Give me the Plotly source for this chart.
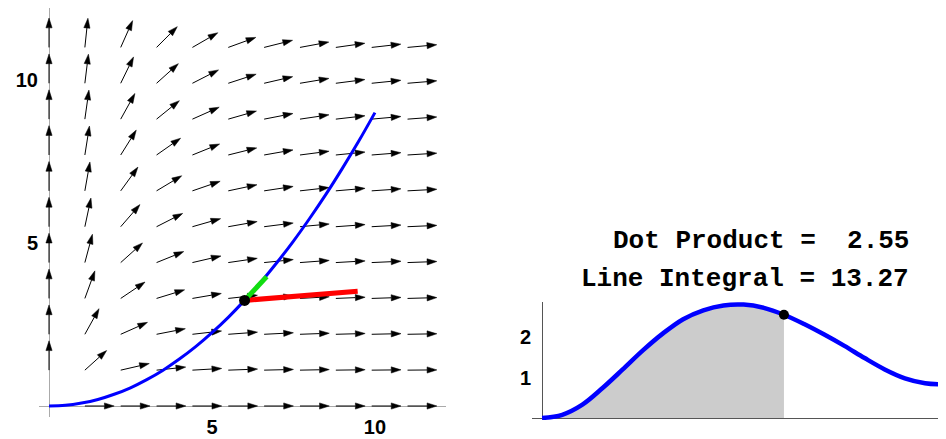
import math
import plotly.graph_objects as go

# ---------------- data ----------------
grid_x = [0.0, 1.1, 2.2, 3.3, 4.4, 5.5, 6.6, 7.7, 8.8, 9.9, 11.0]
grid_y = [0.0, 1.1, 2.2, 3.3, 4.4, 5.5, 6.6, 7.7, 8.8, 9.9, 11.0]
# arrow direction (degrees) for each grid row (y) / column (x); None = no arrow
arrow_angle_deg = [
    [None, 0, 0, 0, 0, 0, 0, 0, 0, 0, 0],
    [90, 42, 13, 6, 3.3, 2.1, 1.4, 1.1, 0.8, 0.6, 0.5],
    [90, 61, 24, 11, 6.5, 4.2, 2.9, 2.1, 1.6, 1.3, 1.0],
    [90, 70, 34, 17, 9.7, 6.2, 4.3, 3.2, 2.4, 1.9, 1.6],
    [90, 75, 42, 22, 13, 8.3, 5.8, 4.2, 3.3, 2.6, 2.1],
    [90, 78, 49, 27, 16, 10, 7.2, 5.3, 4.1, 3.2, 2.6],
    [90, 80, 54, 31, 19, 12, 8.6, 6.4, 4.9, 3.9, 3.1],
    [90, 81, 58, 35, 22, 14, 10, 7.4, 5.7, 4.5, 3.6],
    [90, 82, 61, 39, 24, 16, 11, 8.4, 6.5, 5.1, 4.2],
    [90, 83, 64, 42, 27, 18, 13, 9.5, 7.3, 5.8, 4.7],
    [90, 84, 66, 45, 30, 20, 14, 10.5, 8.1, 6.4, 5.2],
]

curve_x = [0, 0.5, 1, 1.5, 2, 2.5, 3, 3.5, 4, 4.5, 5, 5.5, 6, 6.5, 7, 7.5, 8, 8.5, 9, 9.5, 10]
curve_y = [0, 0.02, 0.09, 0.2, 0.36, 0.56, 0.81, 1.1, 1.44, 1.82, 2.25, 2.72, 3.24,
           3.8, 4.41, 5.06, 5.76, 6.5, 7.29, 8.12, 9.0]

point_xy = [6.0, 3.24]
tangent_vec = [0.68, 0.73]
field_vec = [3.47, 0.28]

t_vals = [0, 0.5, 1, 1.5, 2, 2.5, 3, 3.5, 4, 4.5, 5, 5.5, 6, 6.5, 7, 7.5, 8, 8.5, 9, 9.5, 10]
dot_vals = [0, 0.08, 0.33, 0.74, 1.2, 1.67, 2.09, 2.44, 2.66, 2.78, 2.8, 2.72, 2.55,
            2.32, 2.06, 1.78, 1.48, 1.2, 0.98, 0.86, 0.83]
t_current = 6.0
dot_current = 2.55
line_integral = 13.27

left_ticks = [5, 10]
right_yticks = [1, 2]

# ---------------- styling ----------------
ARROW_LEN = 0.9
HEAD_LEN = 0.3
HEAD_HALF = 0.095
PAGE_OFF = 8            # default body margin of the html page
W, H = 946 - PAGE_OFF, 439 - PAGE_OFF


def dx(px):
    return (px - PAGE_OFF) / W


def dy(py):
    return 1 - (py - PAGE_OFF) / H


fig = go.Figure()

# vector field arrows
lx, ly, tx, ty = [], [], [], []
for j, yv in enumerate(grid_y):
    for i, xv in enumerate(grid_x):
        a = arrow_angle_deg[j][i]
        if a is None:
            continue
        ux, uy = math.cos(math.radians(a)), math.sin(math.radians(a))
        hx, hy = xv + ARROW_LEN * ux, yv + ARROW_LEN * uy
        bx, by = hx - HEAD_LEN * ux, hy - HEAD_LEN * uy
        lx += [xv, bx, None]
        ly += [yv, by, None]
        px, py = -uy, ux
        tx += [hx, bx + HEAD_HALF * px, bx - HEAD_HALF * px, hx, None]
        ty += [hy, by + HEAD_HALF * py, by - HEAD_HALF * py, hy, None]

fig.add_trace(go.Scatter(x=lx, y=ly, mode="lines", line=dict(color="black", width=1),
                         hoverinfo="skip", xaxis="x", yaxis="y"))
fig.add_trace(go.Scatter(x=tx, y=ty, mode="lines", fill="toself", fillcolor="black",
                         line=dict(color="black", width=0.5), hoverinfo="skip",
                         xaxis="x", yaxis="y"))

# curve
fig.add_trace(go.Scatter(x=curve_x, y=curve_y, mode="lines",
                         line=dict(color="#0000ff", width=3, shape="spline"),
                         xaxis="x", yaxis="y"))
# field vector (red) and unit tangent (green)
fig.add_trace(go.Scatter(x=[point_xy[0], point_xy[0] + field_vec[0]],
                         y=[point_xy[1], point_xy[1] + field_vec[1]], mode="lines",
                         line=dict(color="#ff0000", width=5), xaxis="x", yaxis="y"))
fig.add_trace(go.Scatter(x=[point_xy[0], point_xy[0] + tangent_vec[0]],
                         y=[point_xy[1], point_xy[1] + tangent_vec[1]], mode="lines",
                         line=dict(color="#11dd11", width=5), xaxis="x", yaxis="y"))
fig.add_trace(go.Scatter(x=[point_xy[0]], y=[point_xy[1]], mode="markers",
                         marker=dict(color="black", size=11), xaxis="x", yaxis="y"))

# right panel: shaded area, curve, dot
t_fill = [t for t in t_vals if t <= t_current]
d_fill = [d for t, d in zip(t_vals, dot_vals) if t <= t_current]
fig.add_trace(go.Scatter(x=t_fill, y=d_fill, mode="lines", fill="tozeroy",
                         fillcolor="#cccccc", line=dict(color="rgba(0,0,0,0)", width=0, shape="spline"),
                         xaxis="x2", yaxis="y2"))
fig.add_trace(go.Scatter(x=t_vals, y=dot_vals, mode="lines",
                         line=dict(color="#0000ff", width=4.5, shape="spline"),
                         xaxis="x2", yaxis="y2"))
fig.add_trace(go.Scatter(x=[t_current], y=[dot_current], mode="markers",
                         marker=dict(color="black", size=10), xaxis="x2", yaxis="y2"))

tickfont = dict(family="Liberation Sans, Arial, sans-serif", size=20, color="black", weight="bold")
axis_common = dict(showgrid=False, showline=False, ticks="", zeroline=True,
                   tickfont=tickfont, automargin=False, fixedrange=True)

fig.update_layout(
    width=W, height=H,
    margin=dict(l=0, r=0, t=0, b=0),
    paper_bgcolor="white", plot_bgcolor="white",
    showlegend=False,
    xaxis=dict(domain=[dx(39), dx(446)], range=[-0.307, 12.18], tickvals=left_ticks,
               ticklabelstandoff=-4,
               zerolinecolor="#aaaaaa", zerolinewidth=1, anchor="y", **axis_common),
    yaxis=dict(domain=[dy(417), dy(8)], range=[-0.337, 12.209], tickvals=left_ticks,
               zerolinecolor="#aaaaaa", zerolinewidth=1, anchor="x", **axis_common),
    xaxis2=dict(domain=[dx(532), 1.0], range=[-0.25, 10.02], tickvals=[],
                zerolinecolor="#555555", zerolinewidth=1, anchor="y2", **axis_common),
    yaxis2=dict(domain=[dy(420), dy(302)], range=[-0.049, 2.864], tickvals=right_yticks,
                zerolinecolor="#555555", zerolinewidth=1, anchor="x2", **axis_common),
)

monofont = dict(family="Courier New, Liberation Mono, monospace", size=26, color="black", weight="bold")
fig.add_annotation(x=dx(911), y=dy(241), xref="paper", yref="paper", xanchor="right",
                   yanchor="middle", showarrow=False, font=monofont,
                   text="Dot Product =\u00a0\u00a0" + f"{dot_current:.2f}")
fig.add_annotation(x=dx(911), y=dy(279), xref="paper", yref="paper", xanchor="right",
                   yanchor="middle", showarrow=False, font=monofont,
                   text="Line Integral = " + f"{line_integral:.2f}")

fig.write_html("out.html")
